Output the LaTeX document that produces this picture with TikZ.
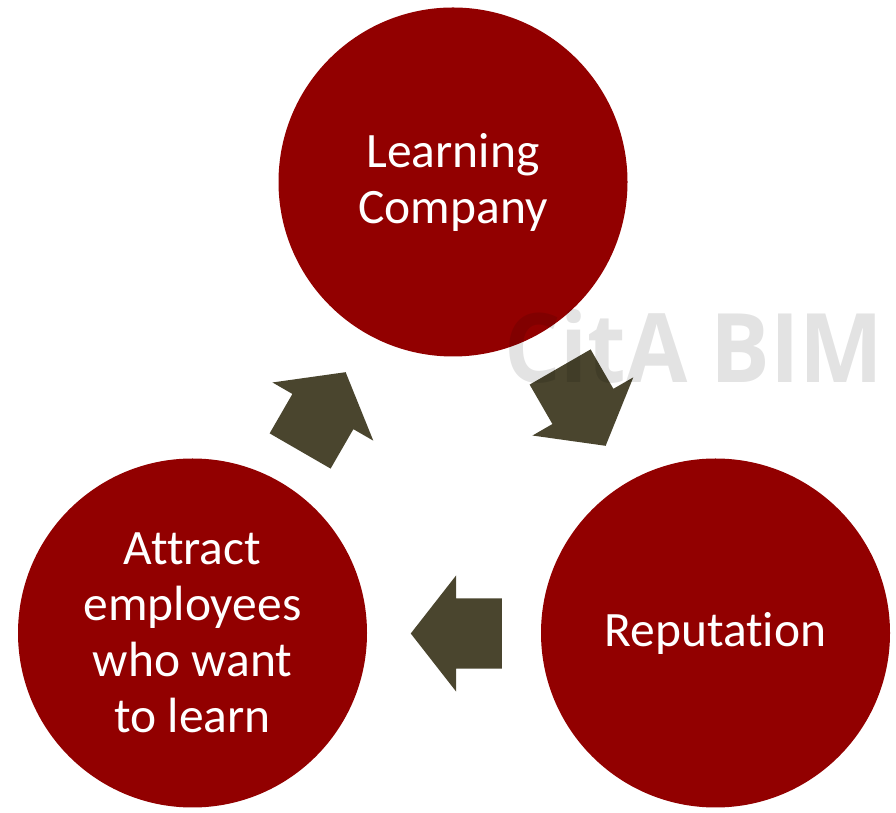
\documentclass[tikz,border=0pt]{standalone}
\usepackage{fontspec}
\setmainfont{Carlito}[Ligatures=NoCommon]
\newfontfamily\markfont{Open Sans}
\usetikzlibrary{shapes.arrows}
\definecolor{cyclered}{RGB}{146,0,0}
\definecolor{cycleolive}{RGB}{74,69,46}
\tikzstyle{stage}=[circle, fill=cyclered, minimum size=349pt, inner sep=0, text=white, align=center, font=\fontsize{49.5}{56}\selectfont]
\tikzstyle{turn}=[single arrow, fill=cycleolive, minimum height=91pt, minimum width=116pt, inner sep=0, inner ysep=35pt, single arrow tip angle=104, single arrow head extend=23pt]
\tikzstyle{watermark}=[text=black, opacity=0.11, font=\markfont\bfseries\fontsize{96}{96}\selectfont, inner sep=0]

\begin{document}
\begin{tikzpicture}[x=1pt, y=1pt]
          \useasboundingbox (0, 0) rectangle (896, 813);
          \node[stage] (learning) at (453, 631) {Learning\\Company};
          \node[stage] (reputation) at (715.5, 180) {Reputation};
          \node[stage] (attract) at (192.5, 180) {Attract\\employees\\who want\\to learn};

          \node[turn, rotate=-60] (to_reputation) at (576, 418.5) {};
          \node[turn, rotate=180] (to_attract) at (470, 179.5) {};
          \node[turn, rotate=60] (to_learning) at (316, 389.5) {};

          \node[watermark, xscale=0.925] (mark) at (694, 466) {CitA BIM};
        \end{tikzpicture}
\end{document}
